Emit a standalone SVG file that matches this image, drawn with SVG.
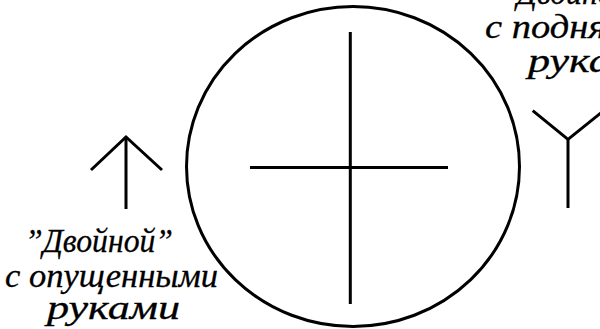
<svg xmlns="http://www.w3.org/2000/svg" width="600" height="329" viewBox="0 0 600 329">
<style>
.ln{fill:none;stroke:#000;stroke-width:3;stroke-linecap:butt;stroke-linejoin:miter}
.lbl{font-family:"Liberation Serif","DejaVu Serif",serif;font-style:italic;font-size:33px;fill:#000;stroke:#000;stroke-width:0.3}
</style>
<rect width="600" height="329" fill="#fff"/>
<g id="circle-node">
<ellipse class="ln" cx="353" cy="166.5" rx="166.5" ry="160"/>
<line class="ln" x1="350.3" y1="32" x2="350.3" y2="304"/>
<line class="ln" x1="250" y1="167.5" x2="448" y2="167.5"/>
</g>
<g id="lowered-arms">
<polyline class="ln" points="91,170 126,137 162,170"/>
<line class="ln" x1="126" y1="137" x2="126" y2="209"/>
<text class="lbl" x="25" y="252.3" textLength="148" lengthAdjust="spacingAndGlyphs">”Двойной”</text>
<text class="lbl" x="5" y="286.5" textLength="213" lengthAdjust="spacingAndGlyphs">с опущенными</text>
<text class="lbl" x="47" y="318.5" textLength="133" lengthAdjust="spacingAndGlyphs">руками</text>
</g>
<g id="raised-arms">
<polyline class="ln" points="532.7,110.7 568,139.3 603.6,110.7"/>
<line class="ln" x1="568" y1="139.3" x2="568" y2="208"/>
<text class="lbl" x="499" y="4" textLength="148" lengthAdjust="spacingAndGlyphs">”Двойной”</text>
<text class="lbl" x="485" y="38" textLength="219" lengthAdjust="spacingAndGlyphs">с поднятыми</text>
<text class="lbl" x="528" y="71.5" textLength="133" lengthAdjust="spacingAndGlyphs">руками</text>
</g>
<g id="connectors"></g>
</svg>
